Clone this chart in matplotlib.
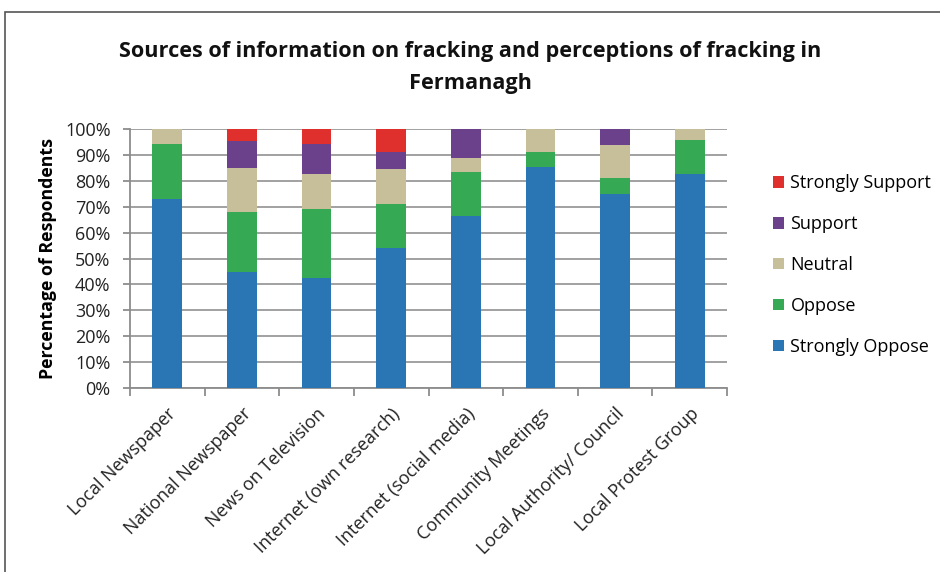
import matplotlib
matplotlib.use("Agg")
import matplotlib.pyplot as plt
from matplotlib.patches import Rectangle
import numpy as np

categories = ["Local Newspaper", "National Newspaper", "News on Television",
              "Internet (own research)", "Internet (social media)",
              "Community Meetings", "Local Authority/ Council", "Local Protest Group"]
strongly_oppose = [73.0, 44.6, 42.3, 54.1, 66.5, 85.3, 75.0, 82.6]
oppose          = [21.2, 23.4, 26.9, 17.0, 16.9, 5.8, 6.1, 13.0]
neutral         = [5.8, 16.8, 13.3, 13.6, 5.5, 8.9, 12.6, 4.4]
support         = [0.0, 10.6, 11.7, 6.5, 11.1, 0.0, 6.3, 0.0]
strongly_support= [0.0, 4.6, 5.8, 8.8, 0.0, 0.0, 0.0, 0.0]
series_names = ["Strongly Oppose", "Oppose", "Neutral", "Support", "Strongly Support"]
colors = ["#2A75B3", "#36A955", "#C7BF99", "#6B418B", "#E0302E"]
yticks = list(range(0, 101, 10))

plt.rcParams['font.family'] = ['Open Sans', 'DejaVu Sans']

fig = plt.figure(figsize=(9.4, 5.72), dpi=100)
ax = fig.add_axes([130/940, 1-388/572, (727-130)/940, (388-129)/572])

x = np.arange(len(categories))
bottom = np.zeros(len(categories))
handles = []
for name, vals, c in zip(series_names, [strongly_oppose, oppose, neutral, support, strongly_support], colors):
    h = ax.bar(x, vals, width=0.4, bottom=bottom, color=c, label=name, zorder=3)
    bottom += np.array(vals)
    handles.append(h)

ax.set_xlim(-0.5, len(categories)-0.5)
ax.set_ylim(0, 100)
ax.set_yticks(yticks)
ax.set_yticklabels([f"{v}%" for v in yticks], fontsize=13)
ax.yaxis.grid(True, color="#9A9A9A", linewidth=1.3, zorder=0)
ax.set_axisbelow(True)
for s in ["top", "right"]:
    ax.spines[s].set_visible(False)
for s in ["left", "bottom"]:
    ax.spines[s].set_color("#8C8C8C")
    ax.spines[s].set_linewidth(1.3)
ax.tick_params(axis="y", colors="#8C8C8C", length=5, width=1.3, labelcolor="#222222", pad=9)
ax.set_xticks(x)
ax.set_xticklabels(categories, rotation=45, ha="right", rotation_mode="anchor",
                   fontsize=13, color="#222222")
ax.tick_params(axis="x", which="major", length=0, pad=12)
ax.set_xticks(np.arange(-0.5, len(categories), 1.0), minor=True)
ax.tick_params(axis="x", which="minor", length=6, width=1.3, color="#8C8C8C")
ax.set_ylabel("Percentage of Respondents", fontsize=12.8, fontweight="bold")
ax.yaxis.set_label_coords((57-130)/(727-130), 0.5)

fig.text(0.5, 1-52/572, "Sources of information on fracking and perceptions of fracking in",
         ha="center", va="center", fontsize=15.6, fontweight="bold", color="#111111")
fig.text(0.5, 1-84/572, "Fermanagh", ha="center", va="center", fontsize=15.6,
         fontweight="bold", color="#111111")

leg = fig.legend(handles[::-1], series_names[::-1], loc="upper left",
                 bbox_to_anchor=(757/940, 1-158/572), frameon=False, fontsize=13,
                 handlelength=0.6, handleheight=0.6, handletextpad=0.35, labelspacing=1.27)

fig.patches.append(Rectangle((5/940, -0.1), 2, 1.1 - 12/572, transform=fig.transFigure,
                             fill=False, edgecolor="#555555", linewidth=1.2))

fig.savefig("out.png", dpi=100)
